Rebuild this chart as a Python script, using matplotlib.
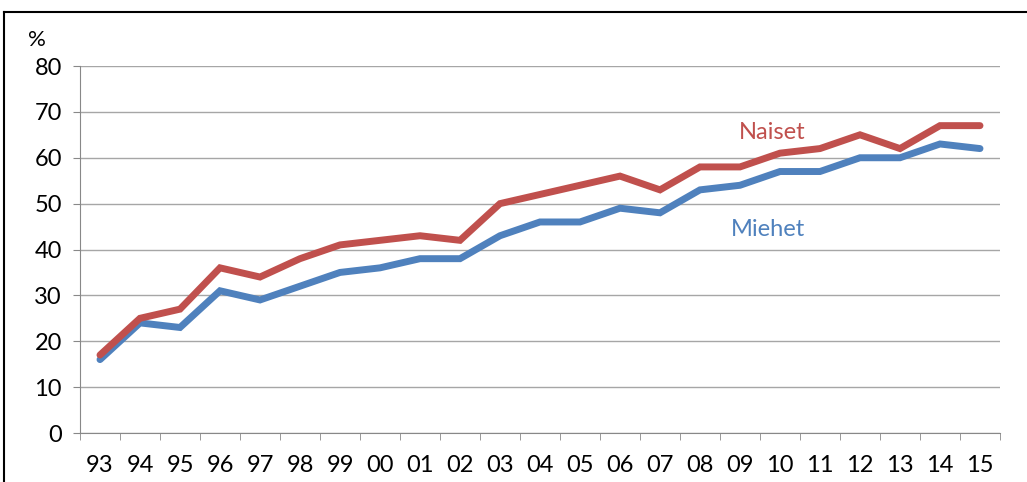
import matplotlib.pyplot as plt
from matplotlib.lines import Line2D
import numpy as np

years = ['93', '94', '95', '96', '97', '98', '99', '00', '01', '02', '03', '04',
         '05', '06', '07', '08', '09', '10', '11', '12', '13', '14', '15']
naiset = [17, 25, 27, 36, 34, 38, 41, 42, 43, 42, 50, 52, 54, 56, 53, 58, 58, 61, 62, 65, 62, 67, 67]
miehet = [16, 24, 23, 31, 29, 32, 35, 36, 38, 38, 43, 46, 46, 49, 48, 53, 54, 57, 57, 60, 60, 63, 62]

plt.rcParams['font.family'] = ['Lato', 'DejaVu Sans']

red = '#C0504D'
blue = '#4F81BD'

fig = plt.figure(figsize=(10.27, 4.82), dpi=100)
ax = fig.add_axes([80 / 1027, 1 - 433 / 482, 920 / 1027, 367 / 482])

x = np.arange(len(years))
ax.plot(x, miehet, color=blue, lw=5, solid_capstyle='round', solid_joinstyle='miter', zorder=3)
ax.plot(x, naiset, color=red, lw=5, solid_capstyle='round', solid_joinstyle='miter', zorder=3)

ax.set_xlim(-0.5, len(years) - 0.5)
ax.set_ylim(0, 80)
ax.set_yticks(range(0, 81, 10))
ax.yaxis.grid(True, color='#A6A6A6', lw=1)
ax.set_axisbelow(True)

ax.set_xticks(x)
ax.set_xticklabels(years, fontsize=17)
ax.set_xticks(np.arange(-0.5, len(years), 1), minor=True)
ax.tick_params(axis='x', which='major', length=0, pad=16)
ax.tick_params(axis='x', which='minor', length=5, color='#888888')
ax.tick_params(axis='y', length=5, color='#888888', labelsize=17, pad=8)

for s in ['top', 'right']:
    ax.spines[s].set_visible(False)
ax.spines['left'].set_color('#888888')
ax.spines['bottom'].set_color('#888888')

ax.text(16.8, 65.4, 'Naiset', color=red, fontsize=17, ha='center', va='center')
ax.text(16.7, 44.3, 'Miehet', color=blue, fontsize=17, ha='center', va='center')
fig.text(37 / 1027, 1 - 40 / 482, '%', fontsize=16, ha='center', va='center')

# outer frame
fig.add_artist(Line2D([4 / 1027, 1.0], [1 - 12 / 482, 1 - 12 / 482], transform=fig.transFigure, color='black', lw=1.5))
fig.add_artist(Line2D([4 / 1027, 4 / 1027], [0, 1 - 12 / 482], transform=fig.transFigure, color='black', lw=1.5))

fig.savefig('out.png', dpi=100)
